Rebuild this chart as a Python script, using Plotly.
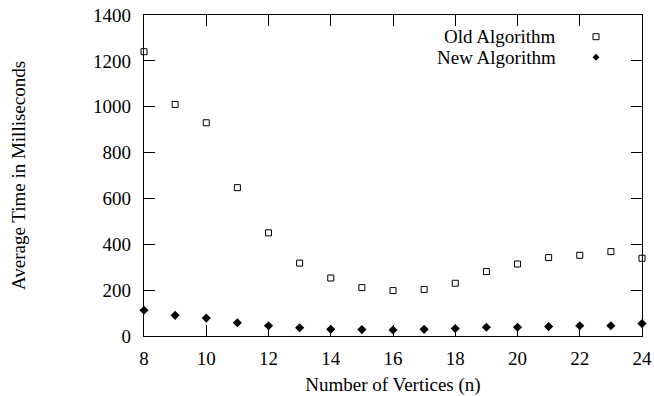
import plotly.graph_objects as go

vertices = list(range(8, 25))
old_alg = [1240, 1010, 930, 647, 450, 318, 253, 211, 198, 203, 230, 281, 314, 342, 352, 368, 339]
new_alg = [112, 90, 78, 58, 45, 36, 29, 28, 26, 29, 33, 38, 38, 41, 45, 45, 54]
x_ticks = [8, 10, 12, 14, 16, 18, 20, 22, 24]
y_ticks = [0, 200, 400, 600, 800, 1000, 1200, 1400]
x_range = [8, 24]
y_range = [0, 1400]

FONT = "Liberation Serif"
FS = 19

fig = go.Figure()
# old algorithm drawn on the overlay axes (x2/y2 match x/y exactly)
fig.add_trace(go.Scatter(
    x=vertices, y=old_alg, mode="markers", name="Old Algorithm",
    xaxis="x2", yaxis="y2",
    marker=dict(symbol="square-open", size=6, color="black", line=dict(width=1, color="black")),
    cliponaxis=False, showlegend=False))
fig.add_trace(go.Scatter(
    x=vertices, y=new_alg, mode="markers", name="New Algorithm",
    marker=dict(symbol="diamond", size=7, color="black", line=dict(width=0)),
    cliponaxis=False, showlegend=False))

axis_common = dict(
    showline=True, linecolor="black", linewidth=1.2, mirror="ticks",
    ticks="inside", ticklen=11, tickwidth=1.2, tickcolor="black",
    showgrid=False, zeroline=False, automargin=False,
    tickfont=dict(family=FONT, size=FS, color="black"),
)

fig.update_layout(
    width=654, height=396,
    margin=dict(l=144, r=12, t=15, b=60),
    paper_bgcolor="white", plot_bgcolor="white",
    font=dict(family=FONT, size=FS, color="black"),
    xaxis=dict(range=x_range, tickmode="array", tickvals=x_ticks, ticklabelstandoff=5, **axis_common,
               title=dict(text="Number of Vertices (n)", font=dict(family=FONT, size=FS), standoff=14)),
    yaxis=dict(range=y_range, tickmode="array", tickvals=y_ticks, ticklabelstandoff=8, **axis_common,
               title=dict(text="Average Time in Milliseconds", font=dict(family=FONT, size=FS), standoff=62)),
    xaxis2=dict(range=x_range, tickmode="array", tickvals=x_ticks, overlaying="x", matches="x",
                side="top", anchor="y2", showticklabels=False, **axis_common),
    yaxis2=dict(range=y_range, tickmode="array", tickvals=y_ticks, overlaying="y", matches="y",
                side="right", anchor="x2", showticklabels=False, **axis_common),
)

# legend (text right-aligned, key on the right, gnuplot style)
legend_rows = [("Old Algorithm", 0.9324), ("New Algorithm", 0.8682)]
for label, yp in legend_rows:
    fig.add_annotation(x=0.8306, y=yp, xref="paper", yref="paper", text=label,
                       showarrow=False, xanchor="right", yanchor="middle",
                       font=dict(family=FONT, size=FS, color="black"))
kx = 0.9076
fig.add_shape(type="rect", xref="paper", yref="paper", xsizemode="pixel", ysizemode="pixel",
              xanchor=kx, yanchor=0.9324, x0=-3, x1=3, y0=-3, y1=3,
              line=dict(color="black", width=1), fillcolor="white")
fig.add_shape(type="path", xref="paper", yref="paper", xsizemode="pixel", ysizemode="pixel",
              xanchor=kx, yanchor=0.8682, path="M -3.5 0 L 0 3.5 L 3.5 0 L 0 -3.5 Z",
              line=dict(color="black", width=0), fillcolor="black")

fig.write_html("out.html", config={"displayModeBar": False},
               post_script="document.body.style.margin='0px';")
